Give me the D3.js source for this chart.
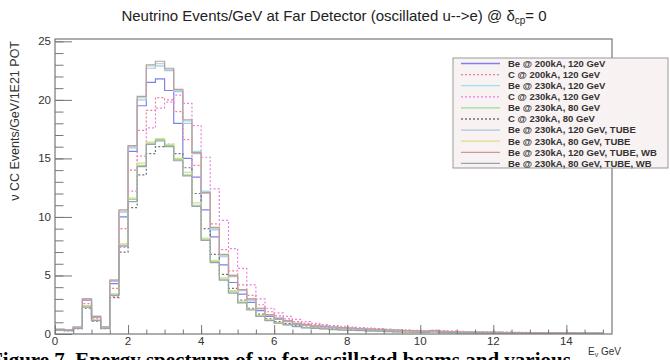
<!DOCTYPE html>
<html>
<head>
<meta charset="utf-8">
<script src="https://cdn.jsdelivr.net/npm/d3@7"></script>
<style>
	body { margin: 0; background: #fff; }
	svg { display: block; }
</style>
</head>
<body>
<div id="chart"></div>
<script>
"use strict";

// histogram bins: 0.25 GeV wide, starting at 0
const binStart = 0;
const binWidth = 0.25;

const seriesNames = [
	"Be @ 200kA, 120 GeV",
	"C @ 200kA, 120 GeV",
	"Be @ 230kA, 120 GeV",
	"C @ 230kA, 120 GeV",
	"Be @ 230kA, 80 GeV",
	"C @ 230kA, 80 GeV",
	"Be @ 230kA, 120 GeV, TUBE",
	"Be @ 230kA, 80 GeV, TUBE",
	"Be @ 230kA, 120 GeV, TUBE, WB",
	"Be @ 230kA, 80 GeV, TUBE, WB"
];

// events / GeV per bin
const be200_120 = [0.4,0.35,0.55,2.9,1.45,0.6,4.3,10.0,15.6,19.5,21.5,21.8,20.8,18.0,15.0,13.4,10.6,8.3,5.9,4.4,3.4,2.7,2.0,1.5,1.25,1.05,0.85,0.75,0.65,0.6,0.55,0.5,0.45,0.42,0.4,0.36,0.33,0.3,0.28,0.26,0.24,0.28,0.2,0.19,0.17,0.16,0.15,0.14,0.13,0.12,0.12,0.11,0.1,0.1,0.09,0.09,0.08,0.08,0.08,0.07];
const c200_120 = [0.35,0.3,0.5,2.6,1.3,0.55,3.9,9.0,14.0,17.4,19.1,20.2,20.0,19.0,16.6,14.4,12.0,9.4,7.2,5.4,4.2,3.3,2.5,1.9,1.55,1.3,1.05,0.9,0.8,0.72,0.65,0.6,0.55,0.5,0.46,0.42,0.38,0.35,0.32,0.3,0.28,0.3,0.24,0.22,0.2,0.19,0.18,0.17,0.16,0.15,0.14,0.13,0.12,0.12,0.11,0.1,0.1,0.09,0.09,0.09];
const be230_120 = [0.4,0.35,0.6,3.0,1.5,0.6,4.6,10.5,16.0,20.2,22.9,23.1,22.6,20.8,18.2,15.6,12.2,9.0,6.7,5.0,3.8,3.0,2.2,1.65,1.35,1.15,0.9,0.8,0.7,0.65,0.6,0.55,0.5,0.45,0.42,0.4,0.35,0.33,0.3,0.28,0.25,0.3,0.22,0.2,0.18,0.17,0.16,0.15,0.14,0.13,0.12,0.12,0.11,0.1,0.1,0.09,0.09,0.08,0.08,0.08];
const c230_120 = [0.3,0.28,0.45,2.4,1.2,0.5,3.2,7.4,12.2,15.2,17.6,19.3,19.8,20.4,19.7,17.8,15.1,12.4,9.7,7.3,5.6,4.2,3.0,2.2,1.8,1.5,1.25,1.05,0.9,0.8,0.72,0.66,0.6,0.55,0.5,0.46,0.42,0.38,0.35,0.32,0.3,0.33,0.26,0.24,0.22,0.2,0.19,0.18,0.17,0.16,0.15,0.14,0.13,0.12,0.12,0.11,0.11,0.1,0.1,0.1];
const be230_80 = [0.35,0.3,0.5,2.4,1.2,0.5,3.4,7.6,11.5,14.4,16.3,16.6,16.1,14.9,13.6,11.0,8.1,6.2,4.7,3.6,2.7,2.1,1.55,1.2,0.95,0.8,0.65,0.55,0.5,0.45,0.4,0.35,0.32,0.3,0.27,0.25,0.22,0.2,0.18,0.17,0.15,0.2,0.13,0.12,0.11,0.1,0.1,0.09,0.08,0.08,0.07,0.07,0.06,0.06,0.06,0.05,0.05,0.05,0.05,0.05];
const c230_80 = [0.3,0.28,0.45,2.2,1.1,0.45,3.1,7.0,10.8,13.6,15.4,16.0,16.2,15.4,14.2,12.0,9.0,6.8,5.1,3.9,2.9,2.2,1.7,1.3,1.05,0.88,0.72,0.6,0.54,0.48,0.43,0.38,0.34,0.31,0.28,0.26,0.23,0.21,0.19,0.18,0.16,0.2,0.14,0.13,0.12,0.11,0.1,0.1,0.09,0.08,0.08,0.07,0.07,0.06,0.06,0.06,0.05,0.05,0.05,0.05];
const be230_120_tube = [0.4,0.35,0.6,3.0,1.5,0.6,4.5,10.4,15.9,20.0,22.7,22.9,22.5,20.7,18.0,15.4,12.0,8.9,6.6,4.9,3.7,2.9,2.15,1.6,1.3,1.1,0.88,0.78,0.68,0.63,0.58,0.53,0.48,0.44,0.41,0.38,0.34,0.32,0.29,0.27,0.25,0.28,0.21,0.2,0.18,0.17,0.16,0.15,0.14,0.13,0.12,0.11,0.11,0.1,0.1,0.09,0.09,0.08,0.08,0.08];
const be230_80_tube = [0.35,0.3,0.5,2.4,1.2,0.5,3.4,7.7,11.6,14.6,16.4,16.7,16.2,15.0,13.8,11.2,8.2,6.3,4.8,3.7,2.8,2.1,1.6,1.2,0.95,0.8,0.66,0.56,0.5,0.45,0.4,0.36,0.32,0.3,0.27,0.25,0.22,0.2,0.18,0.17,0.15,0.2,0.13,0.12,0.11,0.1,0.1,0.09,0.08,0.08,0.07,0.07,0.06,0.06,0.06,0.05,0.05,0.05,0.05,0.05];
const be230_120_tube_wb = [0.4,0.35,0.6,3.0,1.5,0.6,4.6,10.6,16.1,20.3,23.0,23.3,22.7,20.9,18.3,15.5,12.1,9.1,6.8,5.0,3.8,3.0,2.2,1.65,1.35,1.15,0.9,0.8,0.7,0.65,0.6,0.55,0.5,0.45,0.42,0.4,0.35,0.33,0.3,0.28,0.25,0.3,0.22,0.2,0.18,0.17,0.16,0.15,0.14,0.13,0.12,0.12,0.11,0.1,0.1,0.09,0.09,0.08,0.08,0.08];
const be230_80_tube_wb = [0.33,0.28,0.48,2.3,1.15,0.48,3.3,7.5,11.3,14.3,16.2,16.5,16.0,14.8,13.5,10.9,8.0,6.1,4.6,3.5,2.65,2.05,1.5,1.15,0.92,0.78,0.63,0.53,0.48,0.43,0.38,0.34,0.31,0.29,0.26,0.24,0.21,0.19,0.17,0.16,0.14,0.19,0.12,0.11,0.1,0.1,0.09,0.08,0.08,0.07,0.07,0.06,0.06,0.06,0.05,0.05,0.05,0.05,0.04,0.04];

const seriesValues = [be200_120, c200_120, be230_120, c230_120, be230_80, c230_80,
	be230_120_tube, be230_80_tube, be230_120_tube_wb, be230_80_tube_wb];

const seriesColors = ["#8080ea", "#f08090", "#94e8e8", "#ea80e2", "#94de94", "#707070",
	"#aac8d8", "#dcdc88", "#cc9898", "#98a4b2"];
const seriesDashed = [false, true, false, true, false, true, false, false, false, false];

const xTicks = [0, 2, 4, 6, 8, 10, 12, 14];
const yTicks = [0, 5, 10, 15, 20, 25];

const W = 670, H = 360;
const frame = { left: 55, right: 612, top: 39, bottom: 334 };

const svg = d3.select("#chart").append("svg")
	.attr("width", W)
	.attr("height", H)
	.style("font-family", "'Liberation Sans', Arial, sans-serif");

const x = d3.scaleLinear().domain([0, 15.25]).range([frame.left, frame.right]);
const y = d3.scaleLinear().domain([0, 25.2]).range([frame.bottom, frame.top]);

// histograms, drawn as step outlines
const line = d3.line()
	.x(d => x(d[0]))
	.y(d => y(d[1]));

const plot = svg.append("g")
	.attr("clip-path", "url(#clip)");
svg.append("clipPath").attr("id", "clip")
	.append("rect")
	.attr("x", frame.left).attr("y", frame.top)
	.attr("width", frame.right - frame.left)
	.attr("height", frame.bottom - frame.top);

seriesValues.forEach((vals, s) => {
	const pts = [[binStart, 0]];
	vals.forEach((v, i) => {
		const lo = binStart + i * binWidth;
		pts.push([lo, v]);
		pts.push([lo + binWidth, v]);
	});
	plot.append("path")
		.attr("d", line(pts))
		.attr("fill", "none")
		.attr("stroke", seriesColors[s])
		.attr("stroke-width", 1.2)
		.attr("stroke-dasharray", seriesDashed[s] ? "2,2" : null);
});

// frame
svg.append("rect")
	.attr("x", frame.left).attr("y", frame.top)
	.attr("width", frame.right - frame.left)
	.attr("height", frame.bottom - frame.top)
	.attr("fill", "none")
	.attr("stroke", "#777")
	.attr("stroke-width", 1.2);

// x axis, ROOT style ticks pointing into the frame
svg.append("g")
	.attr("transform", `translate(0,${frame.bottom})`)
	.call(d3.axisTop(x).tickValues(d3.range(0, 15.01, 0.5)).tickSize(4.5).tickFormat(""))
	.call(g => g.select(".domain").remove())
	.call(g => g.selectAll(".tick line").attr("stroke", "#777"));
svg.append("g")
	.attr("transform", `translate(0,${frame.bottom})`)
	.call(d3.axisTop(x).tickValues(xTicks).tickSize(9).tickFormat(""))
	.call(g => g.select(".domain").remove())
	.call(g => g.selectAll(".tick line").attr("stroke", "#777"));
svg.append("g").selectAll("text")
	.data(xTicks)
	.join("text")
	.attr("x", d => x(d))
	.attr("y", 345)
	.attr("text-anchor", "middle")
	.attr("font-size", 11.5)
	.attr("fill", "#333")
	.text(d => d);

// y axis
svg.append("g")
	.attr("transform", `translate(${frame.left},0)`)
	.call(d3.axisRight(y).tickValues(d3.range(0, 25.01, 1)).tickSize(8.5).tickFormat(""))
	.call(g => g.select(".domain").remove())
	.call(g => g.selectAll(".tick line").attr("stroke", "#777"));
svg.append("g")
	.attr("transform", `translate(${frame.left},0)`)
	.call(d3.axisRight(y).tickValues(yTicks).tickSize(17).tickFormat(""))
	.call(g => g.select(".domain").remove())
	.call(g => g.selectAll(".tick line").attr("stroke", "#777"));
svg.append("g").selectAll("text")
	.data(yTicks)
	.join("text")
	.attr("x", 51)
	.attr("y", d => y(d) + 4)
	.attr("text-anchor", "end")
	.attr("font-size", 11.5)
	.attr("fill", "#333")
	.text(d => d);

// title
const title = svg.append("text")
	.attr("x", 334)
	.attr("y", 21)
	.attr("text-anchor", "middle")
	.attr("font-size", 15)
	.attr("fill", "#222");
title.append("tspan").text("Neutrino Events/GeV at Far Detector (oscillated u-->e) @ δ");
title.append("tspan").attr("font-size", 10).attr("dy", 3).text("cp");
title.append("tspan").attr("dy", -3).text("= 0");

// axis titles
svg.append("text")
	.attr("transform", "translate(19,41) rotate(-90)")
	.attr("text-anchor", "end")
	.attr("font-size", 12.5)
	.attr("fill", "#333")
	.text("ν CC Events/GeV/1E21 POT");

const xt = svg.append("text")
	.attr("x", 621)
	.attr("y", 355)
	.attr("text-anchor", "end")
	.attr("font-size", 10)
	.attr("fill", "#333");
xt.append("tspan").text("E");
xt.append("tspan").attr("font-size", 7).attr("dy", 2).text("ν");
xt.append("tspan").attr("dy", -2).text(" GeV");

// legend
const leg = svg.append("g");
leg.append("rect")
	.attr("x", 453).attr("y", 58)
	.attr("width", 215).attr("height", 110)
	.attr("fill", "#f8f2f2")
	.attr("stroke", "#999")
	.attr("stroke-width", 1);
seriesNames.forEach((name, i) => {
	const ly = 63.5 + i * 11.1;
	leg.append("line")
		.attr("x1", 461).attr("x2", 500)
		.attr("y1", ly).attr("y2", ly)
		.attr("stroke", seriesColors[i])
		.attr("stroke-width", 1.3)
		.attr("stroke-dasharray", seriesDashed[i] ? "2,2" : null);
	leg.append("text")
		.attr("x", 508)
		.attr("y", ly + 3.3)
		.attr("font-size", 9.5)
		.attr("font-weight", "bold")
		.attr("fill", "#333")
		.text(name);
});

// caption of the paper, cut by the bottom edge as in the source
svg.append("text")
	.attr("x", -10)
	.attr("y", 367)
	.attr("font-family", "'Liberation Serif', 'Times New Roman', serif")
	.attr("font-weight", "bold")
	.attr("font-size", 21)
	.attr("fill", "#000")
	.text("Figure 7. Energy spectrum of νe for oscillated beams and various");
</script>
</body>
</html>
